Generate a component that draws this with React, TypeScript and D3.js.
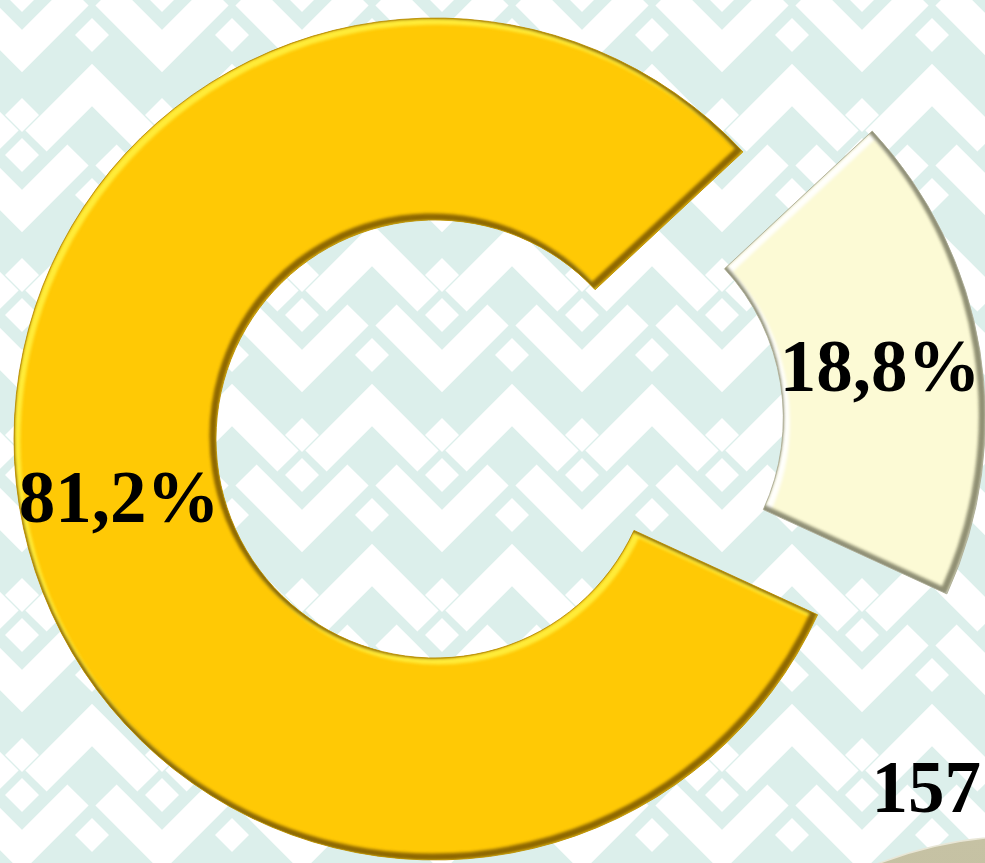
import React, { useEffect } from "react";
import * as d3 from "d3";

const categories = ["Категория 2", "Категория 1"];
const values = [18.8, 81.2];
const valueLabels = ["18,8%", "81,2%"];
const totalLabel = ["157"];

const W = 985;
const H = 863;
const CX = 435;
const CY = 439;
const R_OUT = 421;
const R_IN = 219;
const START_DEG = 47;
const EXPLODE = [131, 0];
const LABEL_DY = [24, 32];
const FILLS = ["#fcfad5", "#ffc905"];
const HILITE = ["#ffffff", "#fff040"];
const SHADE = ["#7d7d62", "#7a5600"];
const EDGE = ["#a8a890", "#b58a00"];

export default function App() {
  useEffect(() => {
    document.body.style.margin = "0";
  }, []);

  const start = (START_DEG * Math.PI) / 180;
  const pie = d3
    .pie<number>()
    .sort(null)
    .value((d) => d)
    .startAngle(start)
    .endAngle(start + Math.PI * 2);
  const arcs = pie(values);
  const arcGen = d3.arc<d3.PieArcDatum<number>>().innerRadius(R_IN).outerRadius(R_OUT);

  const wp = { fill: "none", stroke: "#ffffff", strokeWidth: 30, strokeLinecap: "butt" as const, strokeLinejoin: "miter" as const };

  return (
    <svg width={W} height={H} style={{ display: "block" }} xmlns="http://www.w3.org/2000/svg">
      <defs>
        <pattern
          id="bgpat"
          width={140}
          height={160}
          patternUnits="userSpaceOnUse"
          patternTransform="translate(-48,-5)"
        >
          <rect width={140} height={160} fill="#dcefeb" />
          {/* big V row */}
          <polyline points="14,0 70,56 126,0" {...wp} />
          <polyline points="14,160 70,216 126,160" {...wp} />
          {/* small stubs above V */}
          <rect x={58} y={-12} width={24} height={24} fill="#fff" transform="rotate(45 70 0)" />
          <rect x={58} y={148} width={24} height={24} fill="#fff" transform="rotate(45 70 160)" />
          {/* Λ row at tile edges */}
          <polyline points="-56,146 0,90 56,146" {...wp} />
          <polyline points="84,146 140,90 196,146" {...wp} />
          {/* diamonds between */}
          <rect x={58} y={108} width={24} height={24} fill="#fff" transform="rotate(45 70 120)" />
          <rect x={-12} y={28} width={24} height={24} fill="#fff" transform="rotate(45 0 40)" />
          <rect x={128} y={28} width={24} height={24} fill="#fff" transform="rotate(45 140 40)" />
        </pattern>
        <filter id="soft" x="-10%" y="-10%" width="120%" height="120%">
          <feGaussianBlur stdDeviation="1.6" />
        </filter>
        <linearGradient id="greyBlob" x1="0" y1="0" x2="0" y2="1">
          <stop offset="0" stopColor="#c6c2a4" />
          <stop offset="1" stopColor="#b9b593" />
        </linearGradient>
        {arcs.map((a, i) => (
          <clipPath id={`clip${i}`} key={i}>
            <path d={arcGen(a) || ""} />
          </clipPath>
        ))}
      </defs>

      <rect width={W} height={H} fill="url(#bgpat)" />
      <circle cx={1025} cy={1240} r={404} fill="url(#greyBlob)" stroke="#e8e6d6" strokeWidth={1.5} />

      {arcs.map((a, i) => {
        const mid = (a.startAngle + a.endAngle) / 2;
        const dx = Math.sin(mid) * EXPLODE[i];
        const dy = -Math.cos(mid) * EXPLODE[i];
        const d = arcGen(a) || "";
        return (
          <g key={categories[i]} transform={`translate(${CX + dx},${CY + dy})`}>
            <path d={d} fill={FILLS[i]} />
            <g clipPath={`url(#clip${i})`}>
              <path
                d={d}
                fill="none"
                stroke={HILITE[i]}
                strokeWidth={7}
                transform="translate(3,3)"
                filter="url(#soft)"
                opacity={0.9}
              />
              <path
                d={d}
                fill="none"
                stroke={SHADE[i]}
                strokeWidth={7}
                transform="translate(-3,-3)"
                filter="url(#soft)"
                opacity={0.85}
              />
            </g>
            <path d={d} fill="none" stroke={EDGE[i]} strokeWidth={1} opacity={0.8} />
          </g>
        );
      })}

      {arcs.map((a, i) => {
        const mid = (a.startAngle + a.endAngle) / 2;
        const dx = Math.sin(mid) * EXPLODE[i];
        const dy = -Math.cos(mid) * EXPLODE[i];
        const [px, py] = arcGen.centroid(a);
        return (
          <text
            key={`lbl${i}`}
            x={CX + dx + px}
            y={CY + dy + py + LABEL_DY[i]}
            textAnchor="middle"
            fontFamily="'Liberation Serif', 'Times New Roman', serif"
            fontWeight="bold"
            fontSize={73}
            fill="#000"
          >
            {valueLabels[i]}
          </text>
        );
      })}

      <text
        x={981}
        y={812}
        textAnchor="end"
        fontFamily="'Liberation Serif', 'Times New Roman', serif"
        fontWeight="bold"
        fontSize={73}
        fill="#000"
      >
        {totalLabel[0]}
      </text>
    </svg>
  );
}
